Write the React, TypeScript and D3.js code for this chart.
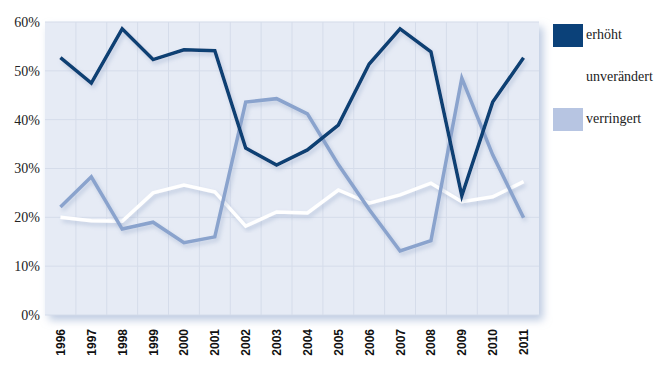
import React from "react";
import * as d3 from "d3";

const years = ["1996","1997","1998","1999","2000","2001","2002","2003","2004","2005","2006","2007","2008","2009","2010","2011"];
const erhoeht = [52.7,47.5,58.6,52.3,54.3,54.1,34.2,30.7,33.8,38.9,51.4,58.6,53.9,24.4,43.6,52.7];
const unveraendert = [20.0,19.3,19.2,25.0,26.6,25.2,18.2,21.1,20.9,25.6,22.9,24.6,27.0,23.2,24.2,27.3];
const verringert = [22.1,28.3,17.6,19.0,14.8,16.0,43.6,44.3,41.2,30.8,21.6,13.1,15.2,48.5,32.8,19.9];
const yTicks = [0, 10, 20, 30, 40, 50, 60];

const seriesList = [
  { name: "erhöht", values: erhoeht, line: "#0b3f73", swatch: "#0b4179" },
  { name: "unverändert", values: unveraendert, line: "#ffffff", swatch: "#ffffff" },
  { name: "verringert", values: verringert, line: "#8aa3cd", swatch: "#b7c5e2" },
];

const serif = { fontFamily: "'Liberation Serif', 'Times New Roman', serif" };
const sans = { fontFamily: "'Liberation Sans', Arial, sans-serif" };

const App = () => {
  const margin = { top: 22, right: 118, bottom: 51, left: 45 };
  const width = 657, height = 366;
  const innerW = width - margin.left - margin.right;
  const innerH = height - margin.top - margin.bottom;

  const x = d3.scaleBand().domain(years).range([0, innerW]);
  const y = d3.scaleLinear().domain([0, 60]).range([innerH, 0]);

  const line = d3.line<number>()
    .x((d, i) => (x(years[i]) as number) + x.bandwidth() / 2)
    .y(d => y(d));

  return (
    <svg width={width} height={height} style={{ position: "absolute", left: 0, top: 0 }}>
      <defs>
        <filter id="boxShadow" x="-5%" y="-5%" width="115%" height="120%">
          <feGaussianBlur in="SourceAlpha" stdDeviation="4" />
          <feOffset dx="4" dy="5" result="b" />
          <feFlood floodColor="#9fb2d3" floodOpacity="0.7" />
          <feComposite in2="b" operator="in" />
          <feMerge><feMergeNode /><feMergeNode in="SourceGraphic" /></feMerge>
        </filter>
        <filter id="lineShadow" x="-5%" y="-10%" width="115%" height="125%">
          <feGaussianBlur in="SourceAlpha" stdDeviation="2" />
          <feOffset dx="2" dy="3" result="b" />
          <feFlood floodColor="#8fa3c6" floodOpacity="0.45" />
          <feComposite in2="b" operator="in" />
          <feMerge><feMergeNode /><feMergeNode in="SourceGraphic" /></feMerge>
        </filter>
      </defs>
      <rect width={width} height={height} fill="#ffffff" />
      <g transform={`translate(${margin.left},${margin.top})`}>
        <rect width={innerW} height={innerH} fill="#e6ebf5" filter="url(#boxShadow)" />
        {yTicks.map(t => (
          <line key={t} x1={0} x2={innerW} y1={y(t)} y2={y(t)} stroke="#d5dcea" strokeWidth={1} />
        ))}
        {years.slice(1).map(yr => (
          <line key={yr} x1={x(yr)} x2={x(yr)} y1={0} y2={innerH} stroke="#d5dcea" strokeWidth={1} />
        ))}
        {yTicks.map(t => (
          <text key={t} x={-5} y={y(t)} dy="0.35em" textAnchor="end"
            style={serif} fontSize={14} fill="#222">{t}%</text>
        ))}
        {years.map(yr => {
          const cx = (x(yr) as number) + x.bandwidth() / 2;
          return (
            <text key={yr} transform={`translate(${cx + 4.5},${innerH + 14}) rotate(-90)`} textAnchor="end"
              style={sans} fontWeight="bold" fontSize={12} fill="#111">{yr}</text>
          );
        })}
        {[seriesList[1], seriesList[2], seriesList[0]].map(s => (
          <path key={s.name} d={line(s.values) || ""} fill="none" stroke={s.line} strokeWidth={3.5}
            strokeLinejoin="miter" filter="url(#lineShadow)" />
        ))}
      </g>
      {seriesList.map((s, i) => (
        <g key={s.name} transform={`translate(553,${24 + i * 42})`}>
          <rect width={30} height={23} fill={s.swatch} />
          <text x={33} y={15} style={serif} fontSize={14} fill="#222">{s.name}</text>
        </g>
      ))}
    </svg>
  );
};

export default App;
